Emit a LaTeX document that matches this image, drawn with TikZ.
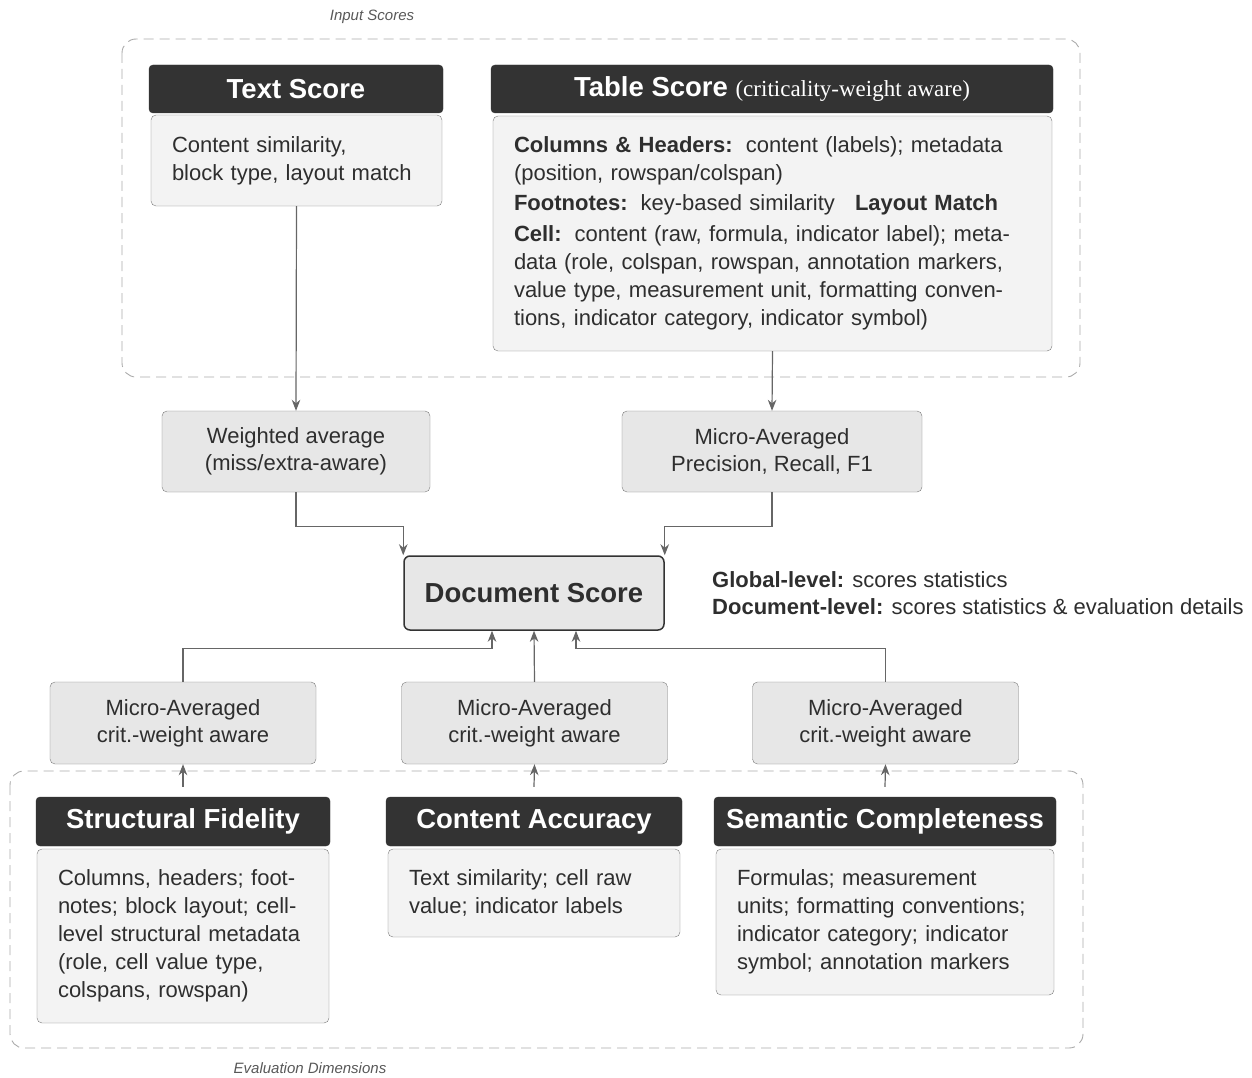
\documentclass[tikz,border=0pt]{standalone}
\usepackage{fontspec}
\setmainfont{Liberation Sans}
\newfontfamily\serifpart{Liberation Serif}
\usetikzlibrary{arrows.meta}
\definecolor{hdr}{HTML}{333333}
\definecolor{txt}{HTML}{2E2E2E}
\definecolor{bodyfill}{HTML}{F3F3F3}
\definecolor{midfill}{HTML}{E7E7E7}
\definecolor{bordc}{HTML}{7A7A7A}
\definecolor{arrc}{HTML}{666666}
\definecolor{dashc}{HTML}{AAAAAA}
\tikzset{
  hdrbox/.style={draw=hdr, fill=hdr, rounded corners=4pt, text=white, font=\fontsize{27.5}{30}\selectfont\bfseries, inner sep=0pt},
  bodybox/.style={draw=bordc, fill=bodyfill, rounded corners=5pt, text=txt, font=\fontsize{22}{28}\selectfont, align=left, inner xsep=21pt, inner ysep=0pt},
  midbox/.style={draw=bordc, fill=midfill, rounded corners=5pt, text=txt, font=\fontsize{22}{27}\selectfont, align=center, inner sep=0pt},
  docbox/.style={draw=hdr, line width=1.5pt, fill=midfill, rounded corners=6pt, text=txt, font=\fontsize{27.5}{30}\selectfont\bfseries, inner sep=0pt},
  group/.style={draw=dashc, dash pattern=on 10pt off 6pt, rounded corners=14pt, line width=0.9pt},
  grouplabel/.style={text=txt!80, font=\fontsize{15}{18}\selectfont\itshape},
  arr/.style={draw=arrc, line width=1.2pt, -{Stealth[length=11pt,width=8.5pt,inset=3.5pt]}},
}
\begin{document}
\begin{tikzpicture}[x=1pt,y=-1pt]
\useasboundingbox (0,0) rectangle (1252,1078);

% groups
\draw[group] (122,39) rectangle (1080,377);
\node[grouplabel] (lblin) at (372,17) {Input Scores};
\draw[group] (10,771) rectangle (1083,1048);
\node[grouplabel] (lblev) at (310,1068) {Evaluation Dimensions};

% Text score
\node[hdrbox, minimum width=294pt, minimum height=48pt] (tsh) at (296,89) {Text Score};
\node[bodybox, text width=249pt, minimum height=91pt] (tsb) at (296.5,160.5) {Content similarity,\\block type, layout match};

% Table score
\node[hdrbox, minimum width=562pt, minimum height=48pt] (tbh) at (772,89) {Table Score {\serifpart\mdseries\fontsize{23}{26}\selectfont (criticality-weight aware)}};
\node[bodybox, text width=517pt, minimum height=235pt] (tbb) at (772.5,233.5) {%
\textbf{Columns \& Headers:}\hspace{2pt} content (labels); metadata\\
(position, rowspan/colspan)\\[2pt]
\textbf{Footnotes:}\hspace{2pt} key-based similarity\hspace{20pt}\textbf{Layout Match}\\[3pt]
\textbf{Cell:}\hspace{2pt} content (raw, formula, indicator label); meta-\\
data (role, colspan, rowspan, annotation markers,\\
value type, measurement unit, formatting conven-\\
tions, indicator category, indicator symbol)};

% middle boxes
\node[midbox, minimum width=268pt, minimum height=81pt] (wavg) at (296,451.5) {Weighted average\\(miss/extra-aware)};
\node[midbox, minimum width=300pt, minimum height=81pt] (mprf) at (772,451.5) {Micro-Averaged\\Precision, Recall, F1};

% document score
\node[docbox, minimum width=260pt, minimum height=74pt] (doc) at (534,593) {Document Score};
\node[text=txt, font=\fontsize{22}{27}\selectfont, align=left, anchor=west, inner sep=0pt] (lvl) at (712,593.5) {\textbf{Global-level:} scores statistics\\\textbf{Document-level:} scores statistics \& evaluation details};

% bottom micro boxes
\node[midbox, minimum width=266pt, minimum height=82pt] (m1) at (183,723) {Micro-Averaged\\crit.-weight aware};
\node[midbox, minimum width=266pt, minimum height=82pt] (m2) at (534.5,723) {Micro-Averaged\\crit.-weight aware};
\node[midbox, minimum width=266pt, minimum height=82pt] (m3) at (885.5,723) {Micro-Averaged\\crit.-weight aware};

% dimension headers and bodies
\node[hdrbox, minimum width=294pt, minimum height=49pt] (sfh) at (183,821.5) {Structural Fidelity};
\node[bodybox, text width=250pt, minimum height=174pt] (sfb) at (183,936) {Columns, headers; foot-\\notes; block layout; cell-\\level structural metadata\\(role, cell value type,\\colspans, rowspan)};
\node[hdrbox, minimum width=296pt, minimum height=49pt] (cah) at (534,821.5) {Content Accuracy};
\node[bodybox, text width=250pt, minimum height=88pt] (cab) at (534,893) {Text similarity; cell raw\\value; indicator labels};
\node[hdrbox, minimum width=342pt, minimum height=49pt] (sch) at (885,821.5) {Semantic Completeness};
\node[bodybox, text width=296pt, minimum height=146pt] (scb) at (885,922) {Formulas; measurement\\units; formatting conventions;\\indicator category; indicator\\symbol; annotation markers};

% connectors
\draw[arr] (tsb.south) -- (wavg.north);
\draw[arr] (tbb.south) -- (mprf.north);
\draw[arr] (wavg.south) -- ++(0,34) -| (doc.north west);
\draw[arr] (mprf.south) -- ++(0,34) -| (doc.north east);
\draw[arr] (m1.north) -- ++(0,-33) -| ([xshift=-42pt]doc.south);
\draw[arr] (m2.north) -- (doc.south);
\draw[arr] (m3.north) -- ++(0,-33) -| ([xshift=42pt]doc.south);
\draw[arr] ([yshift=10pt]sfh.north) -- (m1.south);
\draw[arr] ([yshift=10pt]cah.north) -- (m2.south);
\draw[arr] ([yshift=10pt]sch.north) -- (m3.south);
\end{tikzpicture}
\end{document}
